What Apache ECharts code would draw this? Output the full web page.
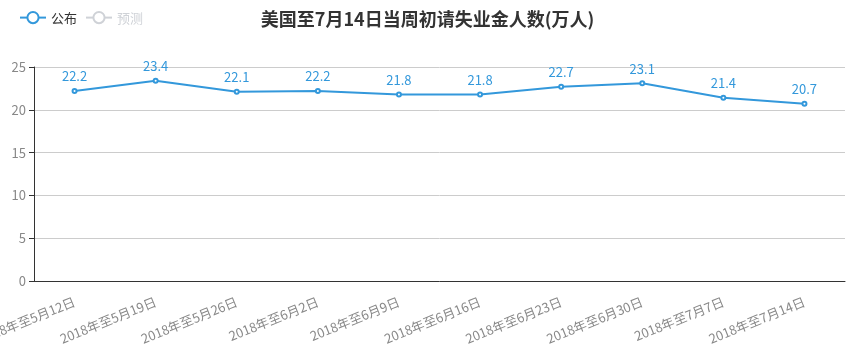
<!DOCTYPE html>
<html>
<head>
<meta charset="utf-8">
<script src="https://cdn.jsdelivr.net/npm/echarts@6/dist/echarts.min.js"></script>
<style>
  html, body { margin: 0; padding: 0; background: #fff; }
  #main { width: 855px; height: 354px; }
</style>
</head>
<body>
<div id="main"></div>
<script>
var weeks = ['2018年至5月12日', '2018年至5月19日', '2018年至5月26日', '2018年至6月2日', '2018年至6月9日',
  '2018年至6月16日', '2018年至6月23日', '2018年至6月30日', '2018年至7月7日', '2018年至7月14日'];
var published = [22.2, 23.4, 22.1, 22.2, 21.8, 21.8, 22.7, 23.1, 21.4, 20.7];
var forecast = [];

var chart = echarts.init(document.getElementById('main'));

var option = {
  textStyle: { fontFamily: 'Noto Sans CJK SC, sans-serif' },
  title: {
    text: '美国至7月14日当周初请失业金人数(万人)',
    left: 'center',
    top: 5,
    textStyle: { fontSize: 18, fontWeight: 'bold', color: '#333' }
  },
  legend: {
    left: 14,
    top: 6,
    itemGap: 8,
    itemWidth: 26,
    data: ['公布', '预测'],
    selected: { '预测': false },
    textStyle: { color: '#333', fontSize: 13 }
  },
  grid: { left: 34, right: 10, top: 67, bottom: 73, containLabel: false, outerBoundsMode: 'none' },
  xAxis: {
    type: 'category',
    data: weeks,
    axisLine: { lineStyle: { color: '#333' } },
    axisTick: { lineStyle: { color: '#333' } },
    axisLabel: { rotate: 22, interval: 0, margin: 20, color: '#888', fontSize: 13 }
  },
  yAxis: {
    type: 'value',
    min: 0,
    max: 25,
    interval: 5,
    axisLine: { show: true, lineStyle: { color: '#333' } },
    axisTick: { show: true, lineStyle: { color: '#333' } },
    axisLabel: { color: '#888', fontSize: 13 },
    splitLine: { lineStyle: { color: '#ccc' } }
  },
  series: [
    {
      name: '公布',
      type: 'line',
      data: published,
      symbol: 'emptyCircle',
      symbolSize: 4,
      itemStyle: { color: '#3398db' },
      lineStyle: { width: 2 },
      label: { show: true, position: 'top', color: '#3398db', fontSize: 13 }
    },
    {
      name: '预测',
      type: 'line',
      data: forecast,
      itemStyle: { color: '#999' }
    }
  ]
};

chart.setOption(option);
</script>
</body>
</html>
